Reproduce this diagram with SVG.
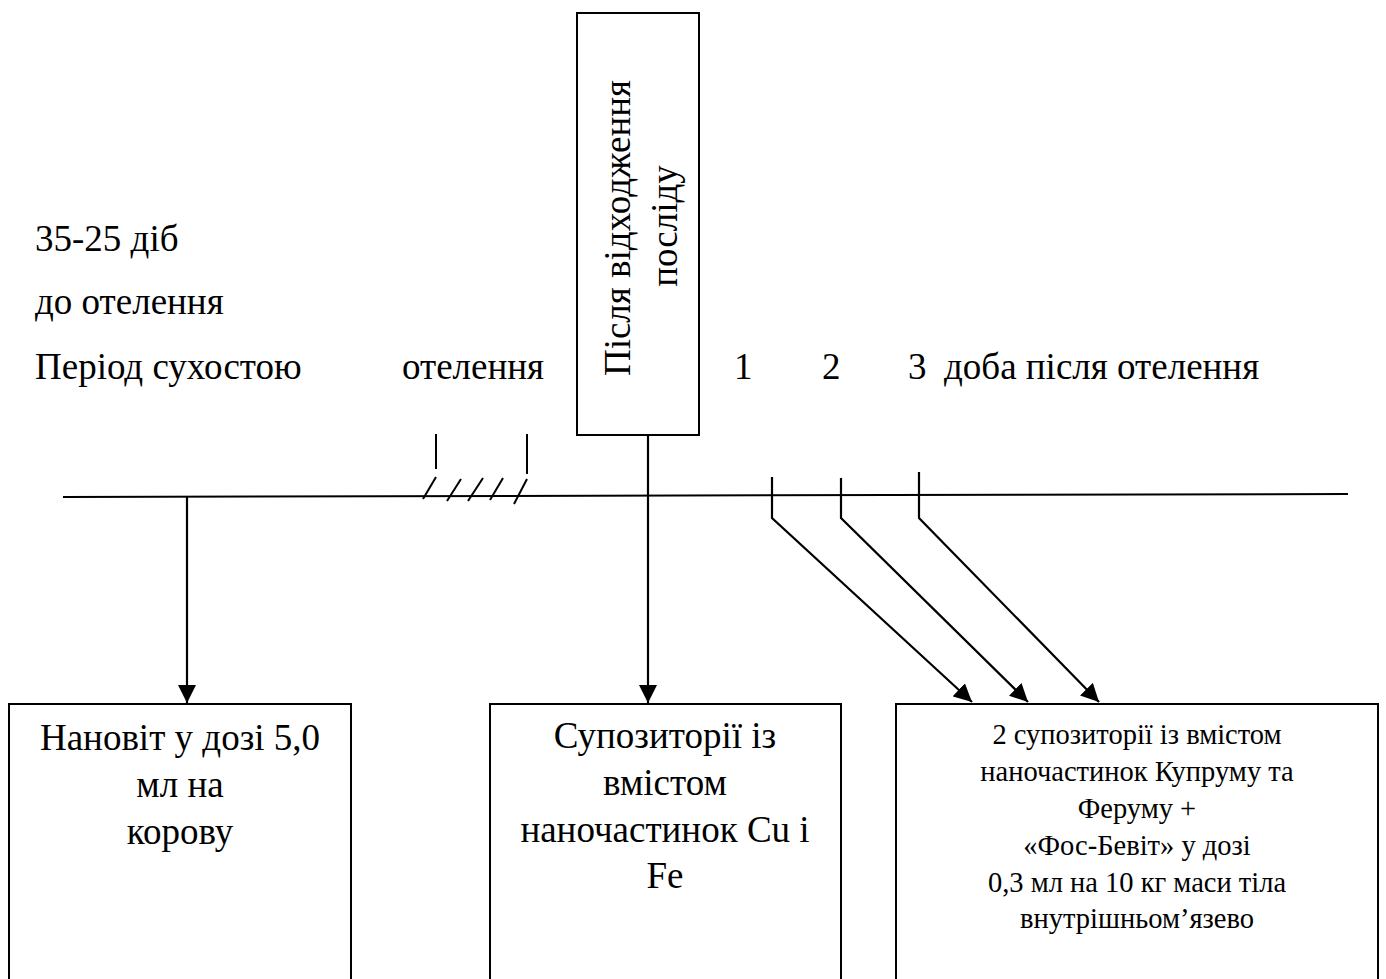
<svg xmlns="http://www.w3.org/2000/svg" width="1386" height="979" viewBox="0 0 1386 979">
<style>
text{font-family:"Liberation Serif","Times New Roman",serif;font-size:37px;fill:#000}
.small{font-size:28.5px}
.c{text-anchor:middle}
.box{fill:#fff;stroke:#000;stroke-width:2}
.ln{fill:none;stroke:#000;stroke-width:2}
.ar{fill:none;stroke:#000;stroke-width:2.2;marker-end:url(#ah)}
</style>
<defs>
<marker id="ah" markerUnits="userSpaceOnUse" markerWidth="18" markerHeight="18" viewBox="0 0 16 16" refX="16" refY="8" orient="auto">
<path d="M0,0 L16,8 L0,16 Z" fill="#000"/>
</marker>
</defs>
<rect width="1386" height="979" fill="#fff"/>

<g id="labels">
<text x="35" y="251">35-25 діб</text>
<text x="35" y="314">до отелення</text>
<text x="35" y="379">Період сухостою</text>
<text x="402" y="379">отелення</text>
<text x="734" y="379">1</text>
<text x="822" y="379">2</text>
<text x="908" y="379">3</text>
<text x="944" y="379">доба після отелення</text>
</g>

<g id="timeline">
<line class="ln" x1="63" y1="497" x2="1348" y2="494"/>
<line class="ln" x1="436" y1="434" x2="436" y2="469"/>
<line class="ln" x1="527" y1="434" x2="527" y2="474"/>
<line class="ln" x1="423" y1="499" x2="436" y2="477"/>
<line class="ln" x1="447" y1="501" x2="461" y2="479"/>
<line class="ln" x1="468" y1="501" x2="483" y2="478"/>
<line class="ln" x1="490" y1="500" x2="503" y2="478"/>
<line class="ln" x1="514" y1="504" x2="527" y2="479"/>
</g>

<g id="node-afterbirth">
<rect class="box" x="577" y="13" width="122" height="422"/>
<text class="c" transform="translate(630,228) rotate(-90)">Після відходження</text>
<text class="c" transform="translate(677,226) rotate(-90)">послiду</text>
</g>

<g id="node-nanovit">
<rect class="box" x="9" y="704" width="342" height="290"/>
<text class="c" x="180" y="750">Нановіт у дозі 5,0</text>
<text class="c" x="180" y="797">мл на</text>
<text class="c" x="180" y="844">корову</text>
</g>

<g id="node-suppositories">
<rect class="box" x="490" y="704" width="351" height="290"/>
<text class="c" x="665" y="748">Супозиторії із</text>
<text class="c" x="665" y="795">вмістом</text>
<text class="c" x="665" y="842">наночастинок Cu і</text>
<text class="c" x="665" y="888">Fe</text>
</g>

<g id="node-combo">
<rect class="box" x="896" y="704" width="482" height="290"/>
<text class="c small" x="1137" y="744">2 супозиторії із вмістом</text>
<text class="c small" x="1137" y="781">наночастинок Купруму та</text>
<text class="c small" x="1137" y="818">Феруму +</text>
<text class="c small" x="1137" y="855">«Фос-Бевіт» у дозі</text>
<text class="c small" x="1137" y="892">0,3 мл на 10 кг маси тіла</text>
<text class="c small" x="1137" y="928">внутрішньом’язево</text>
</g>

<g id="connectors">
<line class="ar" x1="187" y1="496" x2="187" y2="703"/>
<line class="ar" x1="648" y1="435" x2="648" y2="703"/>
<polyline class="ar" points="772,477 772,518 972,702"/>
<polyline class="ar" points="841,478 841,518 1028,702"/>
<polyline class="ar" points="919,472 919,518 1099,702"/>
</g>
</svg>
